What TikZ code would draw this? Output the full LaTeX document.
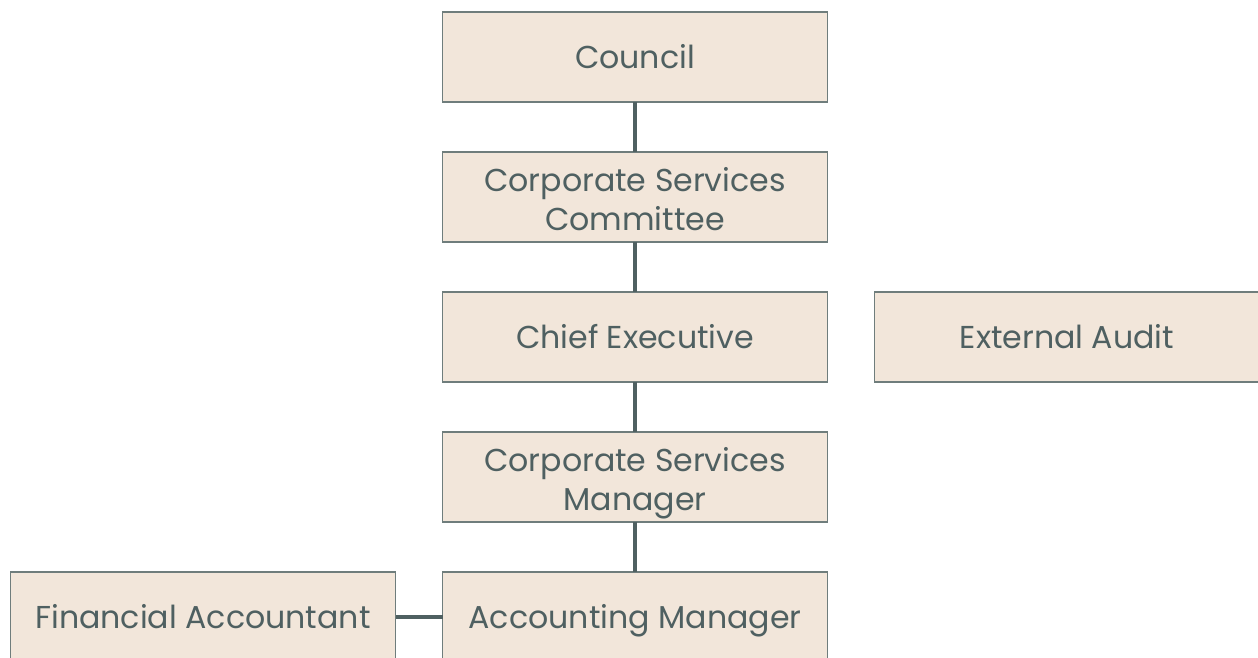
\documentclass[tikz,border=0pt]{standalone}
\usepackage{fontspec}
\setmainfont{Poppins}
\usetikzlibrary{positioning}

\definecolor{boxfill}{HTML}{F2E6DA}
\definecolor{boxline}{HTML}{6F7D7C}
\definecolor{inkgrey}{HTML}{4F6061}

% taller first line for the two-line boxes
\newcommand{\liftline}{\rule{0pt}{22.3pt}}

\begin{document}
\begin{tikzpicture}[
        role/.style={rectangle, draw=boxline, line width=0.6pt, fill=boxfill, text=inkgrey,
            minimum width=7.7cm, minimum height=1.8cm, outer sep=0pt, align=center,
            font=\fontsize{18}{22}\selectfont,
            execute at begin node={\rule{0pt}{\dimexpr\ht\strutbox+4.5pt\relax}},
            execute at end node=\strut},
        twoline/.style={role, inner ysep=0pt},
        link/.style={draw=inkgrey, line width=2.4pt},
        node distance=1cm and 0.94cm,
        ]

    \useasboundingbox (0,0) rectangle (25.16,-13.16);

    % Nodes
    \node[role] (Council) at (12.7,-1.14) {Council};
    \node[twoline, below=of Council] (CSCommittee) {\liftline Corporate Services\\Committee};
    \node[role, below=of CSCommittee] (ChiefExec) {Chief Executive};
    \node[role, right=of ChiefExec] (ExtAudit) {External Audit};
    \node[twoline, below=of ChiefExec] (CSManager) {\liftline Corporate Services\\Manager};
    \node[role, below=of CSManager] (AcctManager) {Accounting Manager};
    \node[role, left=of AcctManager] (FinAccountant) {Financial Accountant};

    % Links
    \draw[link] (Council) -- (CSCommittee);
    \draw[link] (CSCommittee) -- (ChiefExec);
    \draw[link] (ChiefExec) -- (CSManager);
    \draw[link] (CSManager) -- (AcctManager);
    \draw[link] (AcctManager) -- (FinAccountant);

\end{tikzpicture}
\end{document}
